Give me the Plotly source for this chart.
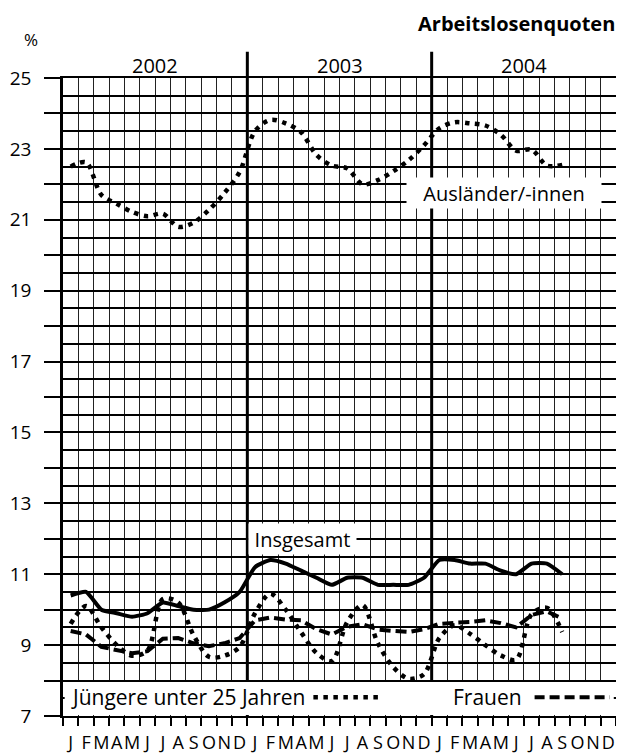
import numpy as np
import plotly.graph_objects as go

# ---- data (monthly, Jan 2002 - Sep 2004) ----
month_letters = ["J", "F", "M", "A", "M", "J", "J", "A", "S", "O", "N", "D"]
years = ["2002", "2003", "2004"]

auslaender = [22.5, 22.62, 21.7, 21.45, 21.22, 21.1, 21.17, 20.8, 20.92, 21.28, 21.75, 22.35,
              23.5, 23.82, 23.72, 23.47, 22.83, 22.53, 22.45, 22.0, 22.12, 22.37, 22.68, 23.1,
              23.58, 23.75, 23.72, 23.66, 23.4, 22.95, 22.98, 22.53, 22.55]
insgesamt = [10.4, 10.5, 10.0, 9.9, 9.8, 9.9, 10.2, 10.1, 10.0, 10.0, 10.2, 10.5,
             11.2, 11.4, 11.3, 11.1, 10.9, 10.7, 10.9, 10.9, 10.7, 10.7, 10.7, 10.9,
             11.4, 11.4, 11.3, 11.3, 11.1, 11.0, 11.3, 11.3, 11.0]
frauen = [9.4, 9.3, 8.95, 8.87, 8.77, 8.83, 9.18, 9.2, 9.05, 8.97, 9.05, 9.2,
          9.7, 9.78, 9.72, 9.7, 9.45, 9.3, 9.52, 9.59, 9.44, 9.4, 9.37, 9.45,
          9.6, 9.63, 9.65, 9.7, 9.62, 9.5, 9.85, 9.95, 9.75]
juengere = [9.6, 10.1, 9.5, 9.0, 8.7, 8.85, 10.3, 10.2, 9.28, 8.67, 8.7, 8.95,
            9.9, 10.45, 10.0, 9.36, 8.78, 8.55, 9.65, 10.13, 9.05, 8.38, 8.05, 8.18,
            9.2, 9.56, 9.32, 9.0, 8.71, 8.59, 9.87, 10.05, 9.37]

n_months = len(month_letters) * len(years)
x = np.arange(len(insgesamt)) + 0.5

FONT = "Open Sans"
dot = "4.5px,5.5px"
dash = "11px,5px"

fig = go.Figure()
fig.add_trace(go.Scatter(x=x, y=auslaender, mode="lines",
                         line=dict(color="black", width=4.5, dash=dot, shape="spline", smoothing=0.9)))
fig.add_trace(go.Scatter(x=x, y=juengere, mode="lines",
                         line=dict(color="black", width=4.5, dash=dot, shape="spline", smoothing=0.9)))
fig.add_trace(go.Scatter(x=x, y=frauen, mode="lines",
                         line=dict(color="black", width=4, dash=dash)))
fig.add_trace(go.Scatter(x=x, y=insgesamt, mode="lines",
                         line=dict(color="black", width=4, shape="spline", smoothing=0.5)))

yt = list(range(7, 26))
fig.update_layout(
    width=616, height=747,
    margin=dict(l=55, r=8, t=70, b=39),
    plot_bgcolor="white", paper_bgcolor="white",
    showlegend=False,
    font=dict(family=FONT, color="black", size=20),
    xaxis=dict(range=[0, n_months], automargin=False,
               tickvals=list(np.arange(n_months) + 0.5),
               ticktext=month_letters * len(years), tickangle=0,
               ticks="", showgrid=False, zeroline=False,
               showline=True, linecolor="black", linewidth=2, mirror=True,
               tickfont=dict(size=18), ticklabelstandoff=9,
               minor=dict(tickvals=list(range(n_months + 1)), ticks="outside", ticklen=8,
                          tickwidth=1.5, tickcolor="black",
                          showgrid=True, gridcolor="#222222", gridwidth=1)),
    yaxis=dict(range=[7, 25], tickvals=yt, automargin=False,
               ticktext=[str(v) if v % 2 == 1 else "" for v in yt],
               ticks="outside", ticklen=16, tickwidth=2, tickcolor="black",
               showgrid=True, gridcolor="black", gridwidth=2, zeroline=False,
               showline=True, linecolor="black", linewidth=2.5, mirror=True,
               tickfont=dict(size=19), ticklabelstandoff=9,
               minor=dict(dtick=0.5, tick0=7, showgrid=True, gridcolor="black", gridwidth=2)),
)

shapes = []
for k in range(1, len(years)):
    xp = k * len(month_letters) / n_months
    shapes.append(dict(type="line", xref="paper", yref="paper", x0=xp, x1=xp, y0=0, y1=1.041,
                       line=dict(color="black", width=3), layer="above"))
# white key box at bottom
shapes.append(dict(type="rect", xref="paper", yref="y", x0=0.003, x1=0.996, y0=7.03, y1=7.96,
                   fillcolor="white", line=dict(width=0), layer="above"))
shapes.append(dict(type="line", xref="x", yref="y", x0=16.3, x1=20.6, y0=7.53, y1=7.53,
                   line=dict(color="black", width=4.5, dash=dot), layer="above"))
shapes.append(dict(type="line", xref="x", yref="y", x0=30.7, x1=35.6, y0=7.53, y1=7.53,
                   line=dict(color="black", width=4, dash="10px,5px"), layer="above"))
fig.update_layout(shapes=shapes)

ann = []
for k, yr in enumerate(years):
    ann.append(dict(text=yr, xref="x", yref="paper", x=k * 12 + 6, y=1.0193, showarrow=False,
                    font=dict(size=20), yanchor="middle"))
ann.append(dict(text="Arbeitslosenquoten", xref="paper", yref="paper", x=1.0, y=1.108,
                xanchor="right", yanchor="top", showarrow=False, borderpad=0,
                font=dict(size=20, family="Open Sans", weight="bold")))
ann.append(dict(text="%", xref="paper", yref="paper", x=-0.0736, y=1.060,
                showarrow=False, font=dict(size=17), yanchor="middle"))
ann.append(dict(text="Insgesamt", xref="x", yref="y", x=15.6, y=12.0, showarrow=False,
                bgcolor="white", width=107, height=30, borderpad=0, font=dict(size=20)))
ann.append(dict(text="Ausländer/-innen", xref="x", yref="y", x=28.7, y=21.75, showarrow=False,
                bgcolor="white", width=194, height=30, borderpad=0, font=dict(size=20)))
ann.append(dict(text="Jüngere unter 25 Jahren", xref="x", yref="y", x=0.4, y=7.53,
                xanchor="left", showarrow=False, font=dict(size=21)))
ann.append(dict(text="Frauen", xref="x", yref="y", x=30.0, y=7.53,
                xanchor="right", showarrow=False, font=dict(size=21)))
fig.update_layout(annotations=ann)

fig.write_html("out.html")
